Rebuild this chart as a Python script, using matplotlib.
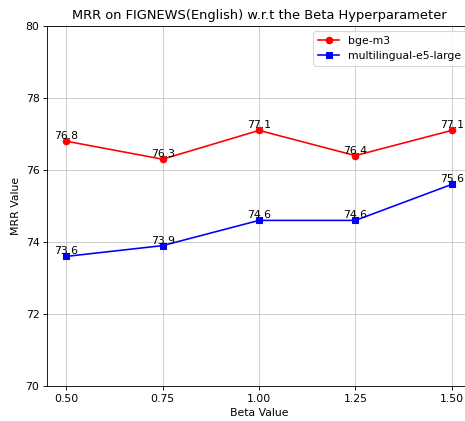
import matplotlib
matplotlib.use('Agg')
import matplotlib.pyplot as plt

# Beta sweep results
beta = [0.50, 0.75, 1.00, 1.25, 1.50]
bge_m3 = [76.8, 76.3, 77.1, 76.4, 77.1]
e5_large = [73.6, 73.9, 74.6, 74.6, 75.6]

dpi = 78
fig = plt.figure(figsize=(465 / dpi, 421 / dpi), dpi=dpi)
ax = fig.add_axes([47 / 465, 35 / 421, 424 / 465, 360 / 421])

ax.plot(beta, bge_m3, 'o-', color='red', label='bge-m3')
ax.plot(beta, e5_large, 's-', color='blue', label='multilingual-e5-large')

for x, y in zip(beta, bge_m3):
    ax.text(x, y, f'{y}', ha='center', va='bottom')
for x, y in zip(beta, e5_large):
    ax.text(x, y, f'{y}', ha='center', va='bottom')

ax.set_xticks(beta)
ax.set_ylim(70, 80)
ax.set_xlabel('Beta Value')
ax.set_ylabel('MRR Value')
ax.set_title('MRR on FIGNEWS(English) w.r.t the Beta Hyperparameter')
ax.grid(True, alpha=0.7)
ax.legend(loc='upper right')

fig.savefig('out.png', dpi=dpi)
